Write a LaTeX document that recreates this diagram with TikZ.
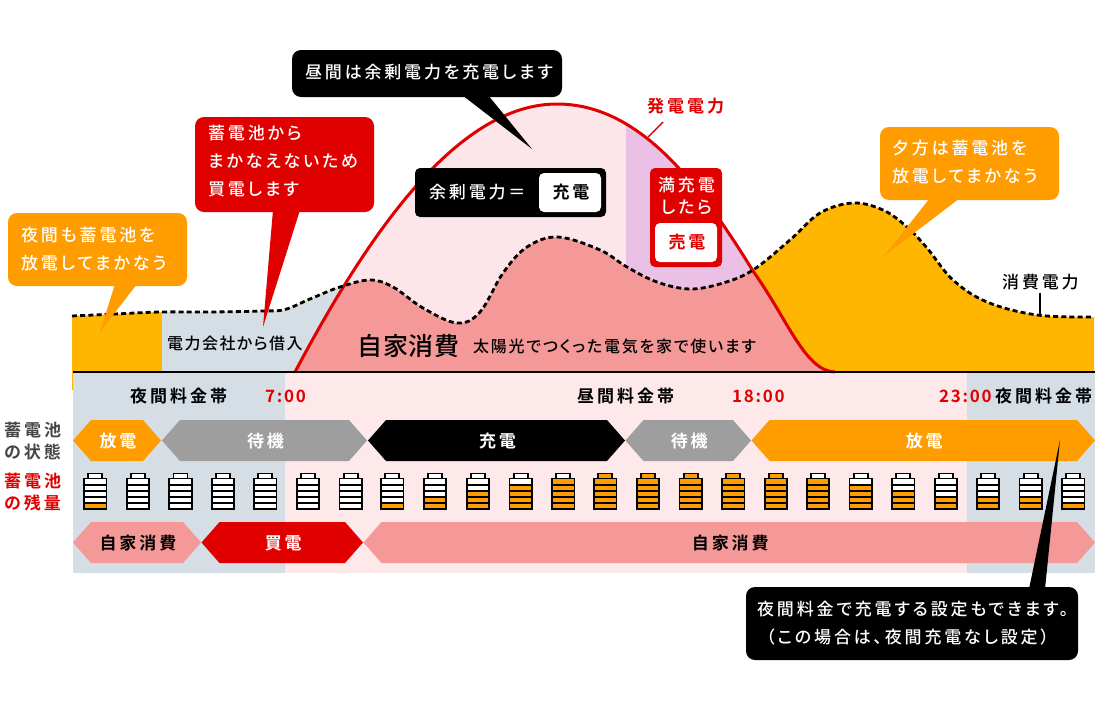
\documentclass[tikz,border=0pt]{standalone}
\usepackage{fontspec}
\newfontfamily\jpA[LetterSpace=16.5,RawFeature={+palt}]{Noto Sans CJK JP Medium}
\newfontfamily\jpE[LetterSpace=17.5,RawFeature={+palt}]{Noto Sans CJK JP Bold}
\newfontfamily\jpB[LetterSpace=3.5]{Noto Sans CJK JP Medium}
\newfontfamily\jpC[LetterSpace=11,RawFeature={+palt}]{Noto Sans CJK JP Medium}
\newfontfamily\jpD[LetterSpace=9,RawFeature={+palt}]{Noto Sans CJK JP Medium}
\newfontfamily\jpT[LetterSpace=10]{Noto Sans CJK JP Bold}
\definecolor{orgA}{HTML}{FFB600}
\definecolor{orgB}{HTML}{FF9C00}
\definecolor{redA}{HTML}{E00000}
\definecolor{salm}{HTML}{F49898}
\definecolor{lpink}{HTML}{FDE9E9}
\definecolor{gpink}{HTML}{FCE6E9}
\definecolor{bgrey}{HTML}{D5DEE5}
\definecolor{mgrey}{HTML}{9E9E9E}
\definecolor{purp}{HTML}{EBC0E6}
\newcommand\mkcurve[3]{\def#1{plot[smooth,tension=0.6] coordinates {#3}}\def#2{-- plot[smooth,tension=0.6] coordinates {#3}}}
\mkcurve\demandcurve\demandto{(72,316) (115,314) (160,312) (210,312) (263,311) (285,309.5) (310,299) (340,287) (370,280) (393,287) (423,308) (457,323) (480,312) (503,273) (527,247) (558,237) (600,250) (627,267) (657,282) (690,289) (723,283) (753,270) (790,240) (820,213) (853,203) (883,210) (907,227) (927,248) (953,280) (987,302) (1037,315) (1094,317)}
\def\gencurve{(295,372) .. controls (365,240) and (455,104) .. (557,104) .. controls (640,104) and (700,185) .. (753,271) .. controls (788,320) and (805,371) .. (835,372)}
\tikzset{
  x=1pt,y=-1pt,
  txtA/.style={inner sep=0,font=\fontsize{17}{28}\selectfont\jpA},
  txtE/.style={inner sep=0,font=\fontsize{17}{28}\selectfont\jpE},
  txtbig/.style={inner sep=0,font=\fontsize{25}{28}\selectfont\jpB},
  txtmid/.style={inner sep=0,font=\fontsize{16}{28}\selectfont\jpC},
  txtloan/.style={inner sep=0,font=\fontsize{16}{28}\selectfont\jpD},
  txttime/.style={inner sep=0,text=redA,font=\fontsize{17}{20}\selectfont\jpT},
  bubble/.style={rounded corners=9pt,inner sep=0},
}
\newcommand\hexa[7]{% name, x0, x1, y0, y1, colour, (text)
  \fill[#6] (#2,{(#4+#5)/2}) -- (#2+18,#4) -- (#3-18,#4) -- (#3,{(#4+#5)/2}) -- (#3-18,#5) -- (#2+18,#5) -- cycle;
  \path ({(#2+#3)/2+1},{(#4+#5)/2+1}) coordinate (#1);#7}
\newcommand\batt[2]{% x, level
  \fill[white] (#1+5,473.7) rectangle (#1+19,478.5);
  \fill[white] (#1,478.5) rectangle (#1+24,509.5);
  \foreach \k in {1,...,5}{\ifnum\k>#2\else\fill[orgB] (#1,{509.5-6.2*\k}) rectangle (#1+24,{509.5-6.2*(\k-1)});\fi}
  \ifnum#2>5 \fill[orgB] (#1+5,473.7) rectangle (#1+19,478.5);\fi
  \draw[line width=1.7pt] (#1+5,478.5) -- (#1+5,473.4) -- (#1+19,473.4) -- (#1+19,478.5);
  \draw[line width=1.7pt] (#1+.8,478.5) rectangle (#1+23.2,509.2);
  \foreach \k in {1,...,4}{\draw[line width=1.7pt] (#1,{509.5-6.2*\k}) -- (#1+24,{509.5-6.2*\k});}
}
\begin{document}
\begin{tikzpicture}
\useasboundingbox (0,0) rectangle (1100,710);
% bands
\fill[bgrey] (73,373) rectangle (285,573);
\fill[lpink] (285,373) rectangle (967,573);
\fill[bgrey] (967,373) rectangle (1095,573);
% areas
\fill[orgA] (72,372) \demandto -- (1094,372) -- cycle;
\begin{scope}
  \clip (72,372) \demandto -- (1094,372) -- cycle;
  \fill[bgrey] (162,250) rectangle (345,372);
\end{scope}
\fill[gpink] \gencurve -- cycle;
\begin{scope}
  \clip \gencurve -- cycle;
  \fill[purp] (626,90) rectangle (840,372);
  \clip (72,372) \demandto -- (1094,372) -- cycle;
  \fill[salm] (290,90) rectangle (840,372);
\end{scope}
\draw[orgA,line width=1pt] (72.5,316) -- (72.5,390);
\draw[redA,line width=3pt] \gencurve;
\draw[black,line width=2.8pt,dash pattern=on 5pt off 3.2pt] \demandcurve;
\draw[black,line width=2.2pt] (73,371.8) -- (1095,371.8);
% curve leaders
\coordinate (genpt) at (648,137);
\coordinate (genend) at (663,122);
\coordinate (dempt) at (1040,315);
\coordinate (demend) at (1040,293);
\node[txtE,text=redA,anchor=west] (genlab) at (647,106) {発電電力};
\node[txtA,anchor=west] (demlab) at (1002,282) {消費電力};
\draw[redA,line width=1.4pt] (genend) -- (genpt);
\draw[line width=1.4pt] (demend) -- (dempt);
% area labels
\node[txtbig,anchor=west] (self) at (357,346) {自家消費};
\node[txtmid,anchor=west] (selfnote) at (473,346) {太陽光でつくった電気を家で使います};
\node[txtloan,anchor=west] (loan) at (167,343) {電力会社から借入};
% bubbles
\node[bubble,fill=orgB,minimum width=179pt,minimum height=73pt] (bnight) at (97.5,249.5) {};
\coordinate (tnight) at (100,332);
\fill[orgB] (115,284) -- (tnight) -- (137,284) -- cycle;
\node[txtA,text=white,anchor=west,align=left] (tbnight) at (21,249) {夜間も蓄電池を\\放電してまかなう};
\node[bubble,fill=redA,minimum width=179pt,minimum height=95pt] (bred) at (284.5,164.5) {};
\coordinate (tred) at (263,327);
\fill[redA] (273,210) -- (tred) -- (300,210) -- cycle;
\node[txtA,text=white,anchor=west,align=left] (tbred) at (208,161) {蓄電池から\\まかなえないため\\買電します};
\node[bubble,fill=black,minimum width=270pt,minimum height=47pt] (bday) at (427,73.5) {};
\coordinate (tday) at (532,149);
\fill[black] (462,95) -- (tday) -- (488,95) -- cycle;
\node[txtA,text=white,anchor=west] (tbday) at (305,72) {昼間は余剰電力を充電します};
\node[bubble,fill=orgB,minimum width=179pt,minimum height=73pt] (beve) at (969.5,163.5) {};
\coordinate (teve) at (884,256);
\fill[orgB] (930,198) -- (teve) -- (960,198) -- cycle;
\node[txtA,text=white,anchor=west,align=left] (tbeve) at (892,162) {夕方は蓄電池を\\放電してまかなう};
% surplus box
\node[rounded corners=5pt,fill=black,minimum width=191pt,minimum height=49pt,inner sep=0] (sbox) at (510.5,192.5) {};
\node[rounded corners=5pt,fill=white,minimum width=62pt,minimum height=39pt,inner sep=0] (swhite) at (570,192.5) {};
\node[txtA,text=white,anchor=west] (slab) at (429,192.5) {余剰電力＝};
\node[txtE] (scharge) at (571,192.5) {充電};
% full box
\node[rounded corners=5pt,fill=redA,minimum width=72pt,minimum height=99pt,inner sep=0] (fbox) at (686,217.5) {};
\node[rounded corners=5pt,fill=white,minimum width=62pt,minimum height=39pt,inner sep=0] (fwhite) at (686,242.5) {};
\node[txtA,text=white,align=center] (flab) at (686.5,196) {満充電\\[-6.5pt]したら};
\node[txtE,text=redA] (fsell) at (687,242) {売電};
% time row
\node[txtE,anchor=west] (n1) at (130,396) {夜間料金帯};
\node[txttime,anchor=west] (t1) at (265,396) {7:00};
\node[txtE,anchor=west] (d1) at (577,396) {昼間料金帯};
\node[txttime,anchor=west] (t2) at (732,396) {18:00};
\node[txttime,anchor=west] (t3) at (939,396) {23:00};
\node[txtE,anchor=west] (n2) at (995,396) {夜間料金帯};
% left labels
\node[txtE,text=black!73,anchor=west,align=left] (st) at (4,441) {蓄電池\\[-6.5pt]の状態};
\node[txtE,text=redA,anchor=west,align=left] (rm) at (4,492) {蓄電池\\[-6.5pt]の残量};
% status row
\hexa{h1}{73}{161}{420}{461}{orgB}{\node[txtE,text=white] at (h1) {放電};}
\hexa{h2}{162}{367}{420}{461}{mgrey}{\node[txtE,text=white] at (h2) {待機};}
\hexa{h3}{368}{625}{420}{461}{black}{\node[txtE,text=white] at (h3) {充電};}
\hexa{h4}{625.5}{751}{420}{461}{mgrey}{\node[txtE,text=white] at (h4) {待機};}
\hexa{h5}{751.5}{1095}{420}{461}{orgB}{\node[txtE,text=white] at (h5) {放電};}
% batteries
\foreach \bx/\lv in {83.3/1,126/0,168.5/0,211/0,253.3/0,296/0,338.7/0,380.3/1,423/2,466/3,508.7/4,551.3/5,593.3/6,636/6,678.7/6,721.3/6,764/6,806/5,848.7/4,891.3/3,934/2,976/2,1018.7/2,1061.3/1}{\batt{\bx}{\lv}}
% use row
\hexa{u1}{73}{201}{522}{563}{salm}{\node[txtE] at (u1) {自家消費};}
\hexa{u2}{201.5}{363}{522}{563}{redA}{\node[txtE,text=white] at (u2) {買電};}
\hexa{u3}{363.5}{1095}{522}{563}{salm}{\node[txtE] at (u3) {自家消費};}
% bottom bubble
\node[bubble,fill=black,minimum width=332pt,minimum height=73pt] (bbot) at (912,623.5) {};
\coordinate (tbot) at (1060,440);
\fill[black] (1029,589) -- (tbot) -- (1045,589) -- cycle;
\node[txtA,text=white,anchor=west,align=left] (tbbot) at (757,623) {夜間料金で充電する設定もできます。\\\hspace*{9pt}（この場合は、夜間充電なし設定）};
\end{tikzpicture}
\end{document}
